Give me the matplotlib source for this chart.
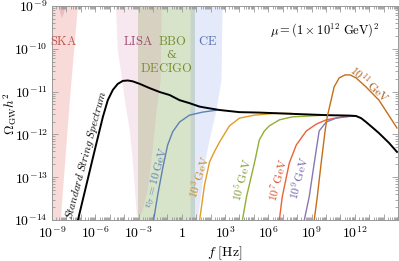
import numpy as np
import matplotlib
matplotlib.use("Agg")
import matplotlib.pyplot as plt
from matplotlib.ticker import FixedLocator, FuncFormatter, NullFormatter

plt.rcParams['mathtext.fontset'] = 'cm'
plt.rcParams['font.family'] = 'serif'
plt.rcParams['font.serif'] = ['DejaVu Serif']

# all curves as (log10 f, log10 Omega h^2)
std_logf = [-7.20, -6.03, -5.47, -5.13, -4.78, -4.44, -4.09, -3.74, -3.40, -2.91, -2.22,
            -1.53, -0.84, -0.15, 0.54, 1.23, 1.72, 2.62, 4.00, 5.38, 7.67, 10.02, 11.61,
            12.09, 12.44, 12.78, 13.20, 13.68, 14.38, 14.93]
std_logo = [-14.0, -12.36, -11.59, -11.20, -10.96, -10.82, -10.75, -10.74, -10.76, -10.82, -10.92,
            -11.01, -11.08, -11.20, -11.27, -11.35, -11.38, -11.43, -11.48, -11.49, -11.52, -11.55, -11.56,
            -11.57, -11.62, -11.71, -11.83, -11.97, -12.20, -12.41]

v10_logf = [-1.95, -1.67, -1.32, -0.98, -0.63, -0.15, 0.54, 1.44, 2.48]
v10_logo = [-14.0, -13.42, -12.79, -12.25, -11.94, -11.71, -11.55, -11.48, -11.43]

v1e3_logf = [1.24, 1.58, 1.93, 2.30, 2.62, 3.31, 4.00, 5.04, 6.42, 7.60]
v1e3_logo = [-14.0, -13.18, -12.64, -12.38, -12.18, -11.80, -11.62, -11.55, -11.51, -11.51]

v1e5_logf = [4.21, 4.49, 5.04, 5.38, 5.73, 6.08, 6.77, 7.67, 8.84, 9.88]
v1e5_logo = [-14.0, -13.46, -12.67, -12.13, -11.92, -11.80, -11.66, -11.59, -11.57, -11.55]

v1e7_logf = [6.77, 6.97, 7.46, 7.94, 8.64, 9.33, 10.02, 11.12, 11.96]
v1e7_logo = [-14.0, -13.46, -12.67, -12.25, -11.92, -11.76, -11.66, -11.59, -11.57]

v1e9_logf = [8.50, 8.84, 9.19, 9.53, 10.02, 10.71, 11.61, 12.09]
v1e9_logo = [-14.0, -13.46, -12.67, -11.92, -11.71, -11.62, -11.58, -11.57]

v1e11_logf = [9.19, 9.40, 9.67, 9.95, 10.09, 10.36, 10.57, 10.92, 11.33, 11.68, 12.09, 12.78, 13.68, 14.93]
v1e11_logo = [-14.0, -13.46, -12.67, -11.90, -11.59, -11.20, -10.89, -10.68, -10.61, -10.61, -10.68,
              -10.89, -11.20, -11.85]

# detector sensitivity regions (outline, log10 f / log10 Omega)
ska_logf = [-10.0, -7.14, -7.20, -7.76, -8.38, -8.45, -10.0]
ska_logo = [-8.5, -8.5, -9.0, -11.2, -13.95, -14.5, -14.5]
pta_logf = [-8.75, -8.55, -8.40, -8.31, -8.20, -8.05, -7.90]
pta_logo = [-8.5, -9.0, -9.2, -9.28, -9.2, -9.0, -8.5]
lisa_logf = [-4.60, -4.57, -4.44, -4.23, -3.95, -3.61, -3.40, -3.12, -2.95, -2.71, -2.36, -2.02,
             -1.74, -1.46, -1.39, -1.37]
lisa_logo = [-8.5, -9.0, -10.03, -10.50, -11.20, -11.90, -12.60, -13.88, -13.95, -13.77, -13.30,
             -12.36, -11.43, -10.73, -9.0, -8.5]
bbo_logf = [-3.05, -3.05, 0.89, 0.89]
bbo_logo = [-8.5, -14.5, -14.5, -8.5]
ce_logf = [0.61, 0.61, 1.03, 1.10, 1.30, 1.65, 1.93, 2.41, 2.76, 2.83, 2.86]
ce_logo = [-8.5, -14.5, -14.35, -14.0, -13.53, -12.60, -12.13, -11.43, -10.73, -9.0, -8.5]

x_ticks = list(range(-9, 16))
x_labelled = [-9, -6, -3, 0, 3, 6, 9, 12]
y_ticks = list(range(-14, -8))

fig = plt.figure(figsize=(3.99, 2.61), dpi=100)
ax = fig.add_axes([52 / 399, 1 - 220 / 261, 346 / 399, 214 / 261])
ax.set_xscale('log')
ax.set_yscale('log')


def p10(a):
    return 10.0 ** np.asarray(a)


ax.fill(p10(bbo_logf), p10(bbo_logo), color=(0.5, 0.65, 0.3), alpha=0.3, lw=0)
ax.fill(p10(ska_logf), p10(ska_logo), color=(0.9, 0.45, 0.4), alpha=0.25, lw=0)
ax.fill(p10(pta_logf), p10(pta_logo), color=(0.75, 0.4, 0.5), alpha=0.25, lw=0)
ax.fill(p10(lisa_logf), p10(lisa_logo), color=(0.8, 0.4, 0.6), alpha=0.15, lw=0)
ax.fill(p10(ce_logf), p10(ce_logo), color=(0.45, 0.55, 0.9), alpha=0.18, lw=0)

c_blue = '#5e81b5'
c_orange = '#e19c24'
c_green = '#8fb032'
c_red = '#eb6235'
c_purple = '#8778b3'
c_brown = '#c56e1a'

ax.plot(p10(v10_logf), p10(v10_logo), color=c_blue, lw=1.0)
ax.plot(p10(v1e3_logf), p10(v1e3_logo), color=c_orange, lw=1.0)
ax.plot(p10(v1e5_logf), p10(v1e5_logo), color=c_green, lw=1.0)
ax.plot(p10(v1e7_logf), p10(v1e7_logo), color=c_red, lw=1.0)
ax.plot(p10(v1e9_logf), p10(v1e9_logo), color=c_purple, lw=1.0)
ax.plot(p10(std_logf), p10(std_logo), color='black', lw=1.4)
ax.plot(p10(v1e11_logf), p10(v1e11_logo), color=c_brown, lw=1.0)

ax.set_xlim(1e-9, 1e15)
ax.set_ylim(1e-14, 1e-9)

# labels
ax.text(10**-8.17, 10**-9.84, r'$\mathrm{SKA}$', color='#c0584e', fontsize=9, ha='center', va='center')
ax.text(10**-3.05, 10**-9.84, r'$\mathrm{LISA}$', color='#a04a70', fontsize=9, ha='center', va='center')
ax.text(10**-0.63, 10**-9.84, r'$\mathrm{BBO}$', color='#7a8c32', fontsize=9, ha='center', va='center')
ax.text(10**-0.70, 10**-10.15, '&', color='#7a8c32', fontsize=8, ha='center', va='center',
        family='DejaVu Serif')
ax.text(10**-1.05, 10**-10.45, r'$\mathrm{DECIGO}$', color='#7a8c32', fontsize=9, ha='center', va='center')
ax.text(10**1.79, 10**-9.84, r'$\mathrm{CE}$', color='#5a6eb4', fontsize=9, ha='center', va='center')
ax.text(10**9.88, 10**-9.56, r'$\mu = (1\times 10^{12}\ \mathrm{GeV})^2$', fontsize=9,
        ha='center', va='center')
ax.text(10**-6.62, 10**-12.48, r'$\mathit{Standard\ String\ Spectrum}$', fontsize=8,
        rotation=75, ha='center', va='center')
ax.text(10**-1.74, 10**-13.02, r'$v_\sigma = 10\,\mathrm{GeV}$', color=c_blue, fontsize=8.5,
        rotation=74, ha='center', va='center')
ax.text(10**1.24, 10**-13.0, r'$10^3\,\mathrm{GeV}$', color='#c8891e', fontsize=8.5,
        rotation=72, ha='center', va='center')
ax.text(10**4.21, 10**-13.07, r'$10^5\,\mathrm{GeV}$', color='#7a9a28', fontsize=8.5,
        rotation=75, ha='center', va='center')
ax.text(10**6.70, 10**-13.07, r'$10^7\,\mathrm{GeV}$', color='#d8502a', fontsize=8.5,
        rotation=75, ha='center', va='center')
ax.text(10**8.15, 10**-13.02, r'$10^9\,\mathrm{GeV}$', color='#6e60a8', fontsize=8.5,
        rotation=75, ha='center', va='center')
ax.text(10**12.99, 10**-10.82, r'$10^{11}\,\mathrm{GeV}$', color='#a85a16', fontsize=8.5,
        rotation=-42, ha='center', va='center')

# ticks
def xfmt(v, pos):
    e = int(round(np.log10(v)))
    if e not in x_labelled:
        return ''
    if e == 0:
        return r'$1$'
    return r'$10^{%d}$' % e


ax.xaxis.set_major_locator(FixedLocator(p10(x_ticks)))
ax.xaxis.set_major_formatter(FuncFormatter(xfmt))
ax.yaxis.set_major_locator(FixedLocator(p10(y_ticks)))
ax.yaxis.set_major_formatter(FuncFormatter(lambda v, p: r'$10^{%d}$' % int(round(np.log10(v)))))
ax.xaxis.set_minor_locator(FixedLocator([m * 10.0**e for e in x_ticks for m in range(2, 10)]))
ax.yaxis.set_minor_locator(FixedLocator([m * 10.0**e for e in y_ticks for m in range(2, 10)]))
ax.xaxis.set_minor_formatter(NullFormatter())
ax.yaxis.set_minor_formatter(NullFormatter())

ax.tick_params(which='both', direction='in', top=True, right=True, color='#999999',
               labelsize=10, width=0.6)
ax.tick_params(which='major', length=4)
ax.tick_params(which='minor', length=2)
ax.tick_params(axis='x', pad=4)
ax.tick_params(axis='y', pad=3)
for s in ax.spines.values():
    s.set_color('#999999')
    s.set_linewidth(0.7)

ax.set_xlabel(r'$f\ [\mathrm{Hz}]$', fontsize=10)
ax.set_ylabel(r'$\Omega_{\rm GW}h^2$', fontsize=9.5)
ax.xaxis.set_label_coords(0.5, -0.115)
ax.yaxis.set_label_coords(-0.095, 0.5)

fig.savefig('out.png', dpi=100)
